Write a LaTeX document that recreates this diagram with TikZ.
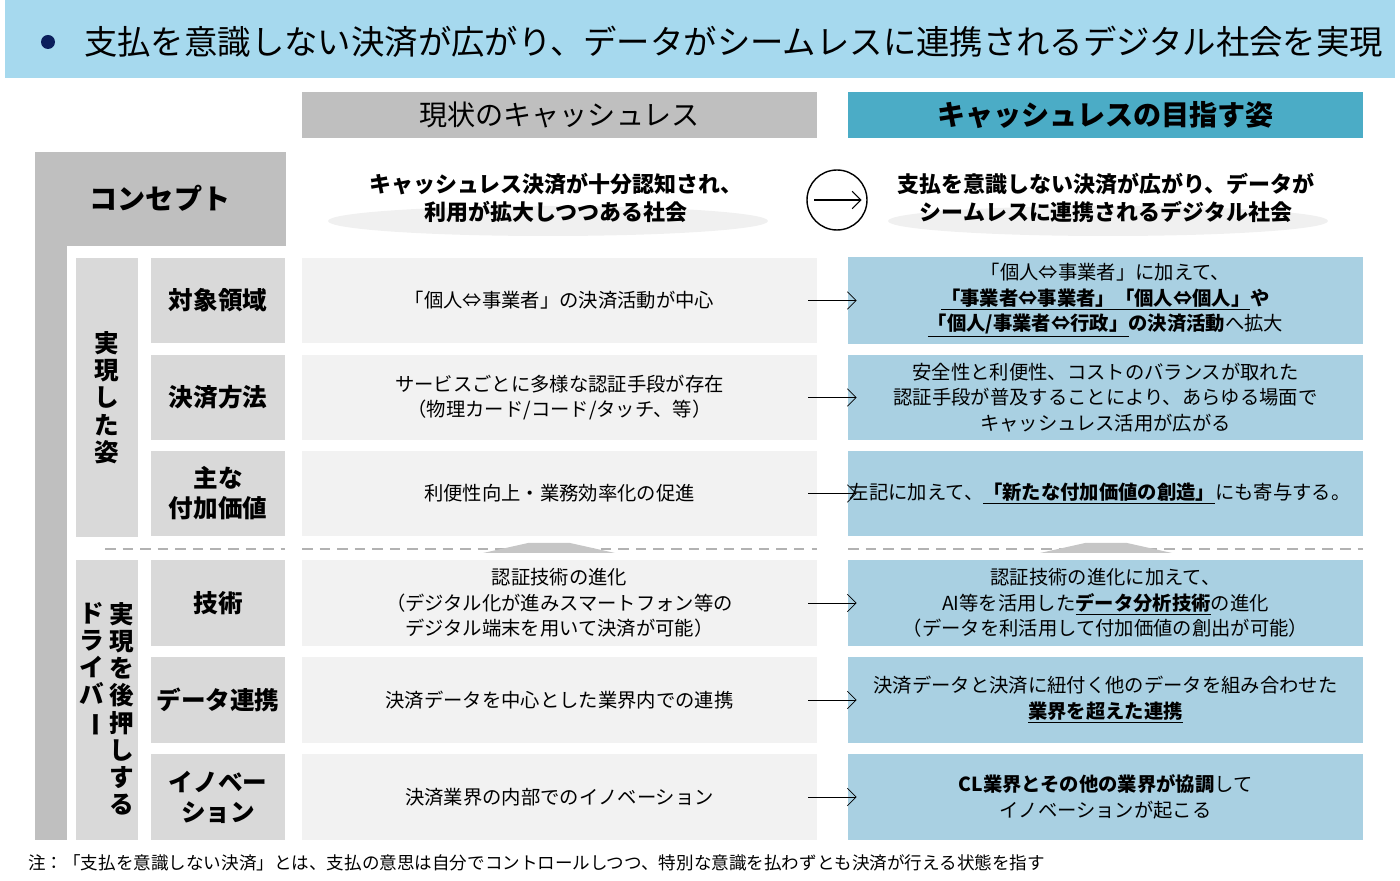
\documentclass[tikz,border=0pt]{standalone}
\usepackage{fontspec}
\setmainfont{Noto Sans CJK JP}
\usetikzlibrary{arrows.meta,calc}
\definecolor{banner}{HTML}{A6D9EE}
\definecolor{navy}{HTML}{0B1F5C}
\definecolor{teal}{HTML}{4BACC6}
\definecolor{goalblue}{HTML}{A9D0E2}
\definecolor{frame}{HTML}{BFBFBF}
\definecolor{lblgray}{HTML}{D9D9D9}
\definecolor{curgray}{HTML}{F2F2F2}
\tikzset{
  lbl/.style={fill=lblgray,minimum width=2.68cm,minimum height=1.72cm,align=center,
    font=\fontsize{14}{17}\selectfont\bfseries},
  cur/.style={fill=curgray,minimum width=10.3cm,minimum height=1.72cm,align=center,
    font=\fontsize{11}{14.5}\selectfont},
  goal/.style={fill=goalblue,minimum width=10.3cm,minimum height=1.72cm,align=center,
    font=\fontsize{11}{14.5}\selectfont},
  grp/.style={fill=lblgray,minimum width=1.24cm,minimum height=5.6cm,align=center,
    font=\fontsize{14}{15.5}\selectfont\bfseries},
  go/.style={-{Straight Barb[length=5pt,width=10pt]},thin},
  hump/.style={fill=gray!45},
}
\begin{document}
\begin{tikzpicture}[x=0.02cm,y=-0.02cm]
\useasboundingbox (0,0) rectangle (1400,881);
% title
\fill[banner] (5,0) rectangle (1395,78);
\fill[navy] (48,42) circle (7);
\node[anchor=west,font=\fontsize{19}{22}\selectfont] (title) at (78,42)
  {支払を意識しない決済が広がり、データがシームレスに連携されるデジタル社会を実現};
% headers
\node[fill=frame,minimum width=10.3cm,minimum height=0.92cm,font=\fontsize{16}{19}\selectfont]
  (hcur) at (559.5,115) {現状のキャッシュレス};
\node[fill=teal,minimum width=10.3cm,minimum height=0.92cm,font=\fontsize{16}{19}\selectfont\bfseries]
  (hgoal) at (1105.5,115) {キャッシュレスの目指す姿};
% frame
\fill[frame] (35,152) rectangle (286,246);
\fill[frame] (35,152) rectangle (67,840);
\node[font=\fontsize{16}{19}\selectfont\bfseries] (concept) at (160,198) {コンセプト};
\fill[gray!12] (548,221) ellipse (220 and 15);
\fill[gray!12] (1108,221) ellipse (220 and 15);
\node[align=center,font=\fontsize{12.5}{16}\selectfont\bfseries] (ccur) at (556,198)
  {キャッシュレス決済が十分認知され、\\利用が拡大しつつある社会};
\node[align=center,font=\fontsize{12.5}{16}\selectfont\bfseries] (cgoal) at (1106,198)
  {支払を意識しない決済が広がり、データが\\シームレスに連携されるデジタル社会};
\node[draw,circle,minimum size=1.2cm,thick] (turn) at (837,200) {};
\draw[go,semithick] ($(turn.west)+(8,0)$) -- ($(turn.east)+(-6,0)$);
% groups
\node[grp] (g1) at (107,397.5) {実\\現\\し\\た\\姿};
\node[grp] (g2) at (107,700) {};
\node[align=center,font=\fontsize{14}{15.5}\selectfont\bfseries,anchor=north] (g2a) at (122,596)
  {実\\現\\を\\後\\押\\し\\す\\る};
\node[align=center,font=\fontsize{14}{15.5}\selectfont\bfseries,anchor=north] (g2b) at (92,596)
  {ド\\ラ\\イ\\バ\\\rotatebox[origin=c]{-90}{ー}};
% rows
\node[lbl] (l1) at (218,300.5) {対象領域};
\node[lbl] (l2) at (218,397.5) {決済方法};
\node[lbl] (l3) at (218,493.5) {主な\\付加価値};
\node[lbl] (l4) at (218,603) {技術};
\node[lbl] (l5) at (218,700) {データ連携};
\node[lbl] (l6) at (218,797) {イノベー\\ション};
\node[cur] (c1) at (559.5,300.5) {「個人⇔事業者」の決済活動が中心};
\node[cur] (c2) at (559.5,397.5) {サービスごとに多様な認証手段が存在\\（物理カード/コード/タッチ、等）};
\node[cur] (c3) at (559.5,493.5) {利便性向上・業務効率化の促進};
\node[cur] (c4) at (559.5,603) {認証技術の進化\\（デジタル化が進みスマートフォン等の\\デジタル端末を用いて決済が可能）};
\node[cur] (c5) at (559.5,700) {決済データを中心とした業界内での連携};
\node[cur] (c6) at (559.5,797) {決済業界の内部でのイノベーション};
\node[goal] (t1) at (1105.5,300.5) {「個人⇔事業者」に加えて、\\
  \textbf{\underline{「事業者⇔事業者」「個人⇔個人」}や}\\
  \textbf{\underline{「個人/事業者⇔行政」}の決済活動}へ拡大};
\node[goal] (t2) at (1105.5,397.5) {安全性と利便性、コストのバランスが取れた\\
  認証手段が普及することにより、あらゆる場面で\\キャッシュレス活用が広がる};
\node[goal] (t3) at (1105.5,493.5) {\hspace*{-6pt}左記に加えて、\textbf{\underline{「新たな付加価値の創造」}}にも寄与する。};
\node[goal] (t4) at (1105.5,603) {認証技術の進化に加えて、\\
  AI等を活用した\textbf{\underline{データ分析技術}}の進化\\（データを利活用して付加価値の創出が可能）};
\node[goal] (t5) at (1105.5,700) {決済データと決済に紐付く他のデータを組み合わせた\\
  \textbf{\underline{業界を超えた連携}}};
\node[goal] (t6) at (1105.5,797) {\textbf{CL業界とその他の業界が協調}して\\イノベーションが起こる};
\foreach \i in {1,...,6} {
  \draw[go] ($(c\i.east)+(-9,0)$) -- ($(t\i.west)+(9,0)$);
}
% divider
\draw[dashed,gray!60,thick,dash pattern=on 6pt off 4pt] (105,549) -- (285,549);
\draw[dashed,gray!60,thick,dash pattern=on 6pt off 4pt] (302,549) -- (817,549);
\draw[dashed,gray!60,thick,dash pattern=on 6pt off 4pt] (848,549) -- (1363,549);
\fill[hump] (483,553) -- (528,543) -- (570,543) -- (615,553) -- cycle;
\fill[hump] (1040,553) -- (1085,543) -- (1127,543) -- (1172,553) -- cycle;
% note
\node[anchor=west,font=\fontsize{10}{12}\selectfont] (note) at (22,863)
  {注：「支払を意識しない決済」とは、支払の意思は自分でコントロールしつつ、特別な意識を払わずとも決済が行える状態を指す};
\end{tikzpicture}
\end{document}
